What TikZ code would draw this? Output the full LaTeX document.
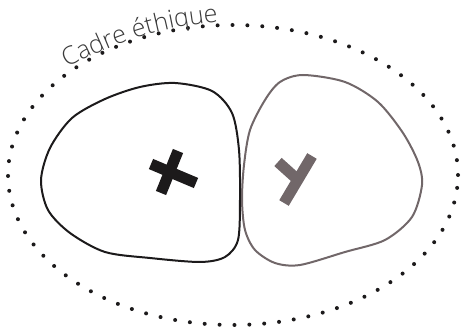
\documentclass[tikz,border=0pt]{standalone}
\usepackage{fontspec}
\newfontfamily\cadrefont{Open Sans Light}
\usetikzlibrary{decorations.text}
\definecolor{noir}{HTML}{1C1A1B}
\definecolor{gris}{HTML}{716769}
\definecolor{texte}{HTML}{3A3A3A}
\tikzset{
  contour/.style={line width=2pt, line join=round},
  marque/.style={line width=11pt},
}
\begin{document}
\begin{tikzpicture}[x=1pt,y=1pt]
\useasboundingbox (0,0) rectangle (461,334);
% cadre pointille
\draw[noir, line width=4pt, line cap=round, dash pattern=on 0pt off 14.9pt]
  (233,159) ellipse [x radius=225, y radius=150];
\coordinate (debut) at (67,266);
\coordinate (fin) at (224,313);
\path[decorate, decoration={text along path, text color=texte,
  text={|\cadrefont\fontsize{25}{25}\selectfont|Cadre éthique}}]
  (debut) to[bend left=11] (fin);
% les deux formes
\draw[contour, noir] plot[smooth cycle] coordinates {
  (175,251) (212,243) (232,221) (239,184) (240,134) (238,94) (225,77)
  (200,72) (150,76) (105,82) (70,101) (48,124) (41,154) (50,186)
  (72,216) (105,235) (140,247)};
\draw[contour, gris] plot[smooth cycle] coordinates {
  (303,259) (345,252) (378,232) (403,201) (418,172) (422,149) (412,117)
  (385,94) (345,82) (300,69) (275,71) (255,84) (245,104) (242,134)
  (244,169) (250,204) (265,234) (280,252)};
% croix et y
\draw[marque, noir] (151,170) -- (196,151);
\draw[marque, noir] (178,183) -- (161,141);
\draw[marque, gris] (284,131) -- (312,178);
\draw[marque, gris] (278,172) -- (298,154);
\end{tikzpicture}
\end{document}
